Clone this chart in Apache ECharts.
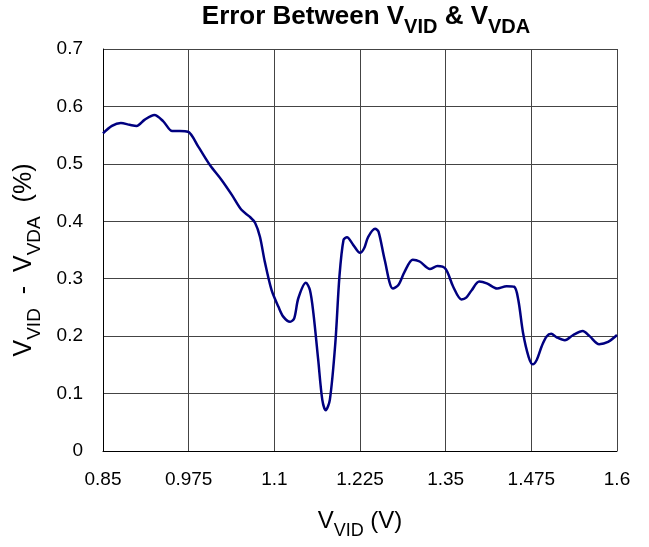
<!DOCTYPE html>
<html>
<head>
    <title>Error Between VVID and VVDA</title>
    <meta charset="utf-8">
    <script src="https://cdn.jsdelivr.net/npm/echarts@6/dist/echarts.min.js"></script>
    <style>
        body { margin: 0; background: #fff; }
    </style>
</head>
<body>
    <div id="main" style="width: 649px;height:547px;"></div>

    <script type="text/javascript">
        var myChart = echarts.init(document.getElementById('main'));

        // VID voltage (V)
        var vid = [0.850, 0.863, 0.876, 0.889, 0.899, 0.911, 0.925, 0.938, 0.951, 0.962,
            0.974, 0.989, 1.006, 1.023, 1.038, 1.052, 1.064, 1.072, 1.079, 1.086,
            1.096, 1.106, 1.113, 1.123, 1.129, 1.135, 1.146, 1.152, 1.157, 1.164,
            1.170, 1.175, 1.181, 1.189, 1.195, 1.201, 1.206, 1.215, 1.225, 1.231,
            1.237, 1.247, 1.252, 1.261, 1.273, 1.281, 1.290, 1.302, 1.312, 1.327,
            1.338, 1.350, 1.361, 1.373, 1.380, 1.388, 1.399, 1.410, 1.425, 1.439,
            1.450, 1.456, 1.463, 1.471, 1.477, 1.483, 1.490, 1.497, 1.504, 1.512,
            1.524, 1.536, 1.550, 1.560, 1.574, 1.587, 1.600];
        // error VID - VDA (%)
        var err = [0.553, 0.566, 0.571, 0.568, 0.566, 0.577, 0.585, 0.574, 0.557, 0.557,
            0.556, 0.530, 0.498, 0.472, 0.446, 0.420, 0.408, 0.397, 0.373, 0.330,
            0.280, 0.251, 0.234, 0.225, 0.231, 0.266, 0.293, 0.280, 0.240, 0.159,
            0.089, 0.071, 0.089, 0.188, 0.304, 0.368, 0.372, 0.359, 0.345, 0.353,
            0.373, 0.387, 0.382, 0.333, 0.283, 0.289, 0.312, 0.333, 0.330, 0.317,
            0.322, 0.317, 0.286, 0.264, 0.267, 0.280, 0.295, 0.292, 0.283, 0.287,
            0.286, 0.263, 0.205, 0.164, 0.151, 0.159, 0.182, 0.199, 0.204, 0.198,
            0.193, 0.202, 0.209, 0.200, 0.186, 0.190, 0.202];

        var points = vid.map(function (v, i) { return [v, err[i]]; });

        var font = 'Liberation Sans, Arial, sans-serif';

        // normal text + subscript styles for rich labels
        function richStyle(size, subSize, drop, bold) {
            return {
                a: { fontFamily: font, fontSize: size, fontWeight: bold ? 'bold' : 'normal', color: '#000', verticalAlign: 'bottom' },
                s: { fontFamily: font, fontSize: subSize, fontWeight: bold ? 'bold' : 'normal', color: '#000', verticalAlign: 'bottom', padding: [0, 0, -drop, 0] }
            };
        }

        var option = {
            animation: false,
            backgroundColor: '#fff',
            title: {
                text: '{a|Error Between V}{s|VID}{a| & V}{s|VDA}',
                left: 361,
                textAlign: 'center',
                top: -1,
                textStyle: { rich: richStyle(26, 20, 7, true) }
            },
            grid: {
                left: 103,
                right: 32,
                top: 49,
                bottom: 96
            },
            xAxis: {
                type: 'value',
                min: 0.85,
                max: 1.6,
                interval: 0.125,
                name: '{a|V}{s|VID}{a| (V)}',
                nameLocation: 'middle',
                nameGap: 58,
                nameTextStyle: { rich: richStyle(24, 18, 7, false) },
                axisLine: { onZero: false, lineStyle: { color: '#000', width: 1 } },
                axisTick: { show: false },
                axisLabel: {
                    margin: 19,
                    fontFamily: font,
                    fontSize: 19,
                    color: '#000',
                    formatter: function (v) { return String(+v.toFixed(3)); }
                },
                splitLine: { show: true, lineStyle: { color: '#444', width: 1 } }
            },
            yAxis: {
                type: 'value',
                min: 0,
                max: 0.7,
                interval: 0.1,
                name: '{a|V}{s|VID}{a|  -  V}{s|VDA}{a|  (%)}',
                nameLocation: 'middle',
                nameRotate: 90,
                nameGap: 66,
                nameTextStyle: { rich: richStyle(25, 19, 7, false), padding: [0, 20, 0, 0] },
                axisLine: { show: true, lineStyle: { color: '#000', width: 1 } },
                axisTick: { show: false },
                axisLabel: {
                    margin: 20,
                    fontFamily: font,
                    fontSize: 19,
                    color: '#000',
                    formatter: function (v) { return String(+v.toFixed(1)); }
                },
                splitLine: { show: true, lineStyle: { color: '#444', width: 1 } }
            },
            series: [{
                type: 'line',
                data: points,
                smooth: 0.3,
                showSymbol: false,
                lineStyle: { color: '#000080', width: 2.5 }
            }]
        };

        myChart.setOption(option);
    </script>
</body>
</html>
